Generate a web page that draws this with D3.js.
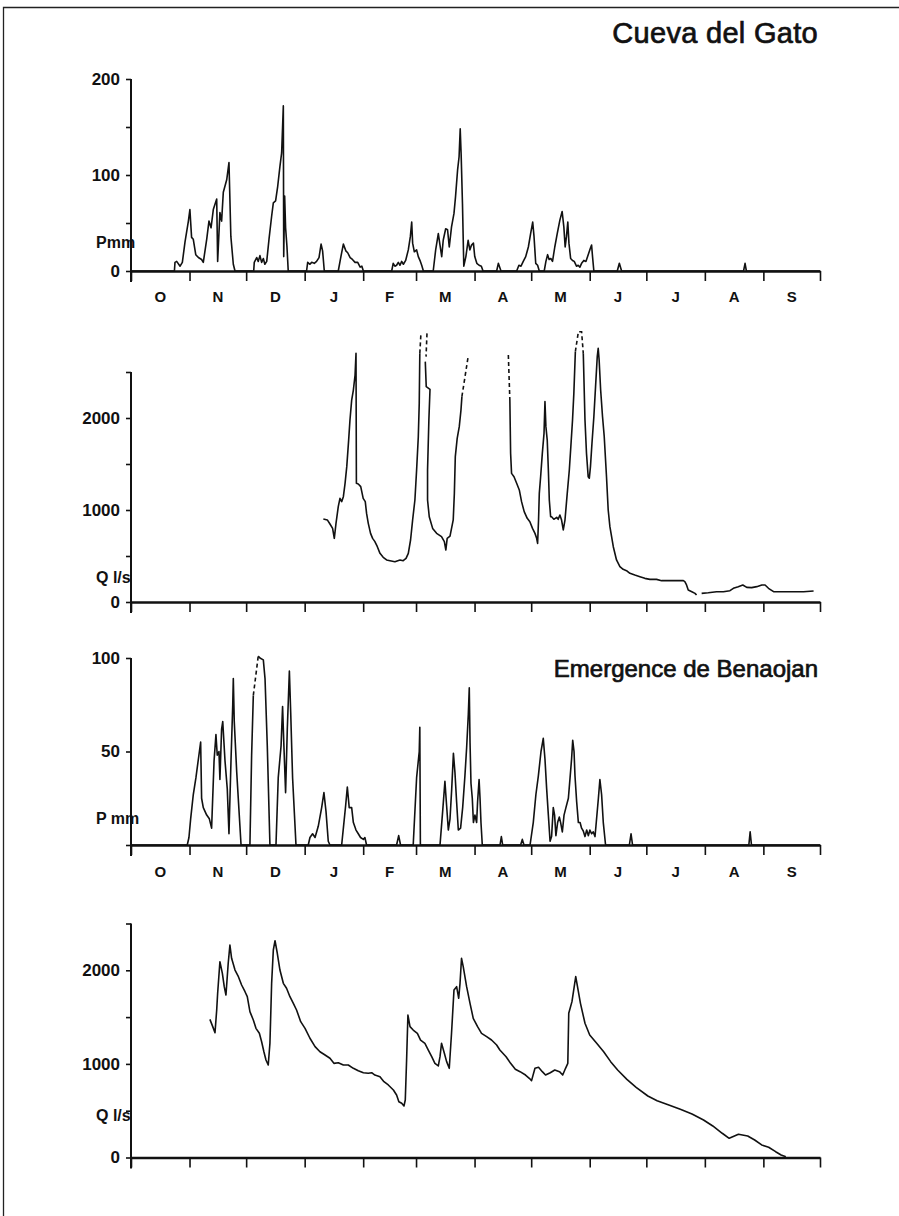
<!DOCTYPE html>
<html><head><meta charset="utf-8">
<script src="https://cdn.jsdelivr.net/npm/d3@7"></script>
<style>
html,body{margin:0;padding:0;background:#fff;}
svg{display:block;}
text{font-family:"Liberation Sans",Arial,Helvetica,sans-serif;fill:#111;}
</style></head><body>
<svg id="chart" width="899" height="1216"></svg>
<script>
// ---------- DATA (day = days since 1 October; value) ----------
const monthLabels = ["O","N","D","J","F","M","A","M","J","J","A","S"];

// Cueva del Gato – rainfall P (mm)
const gatoP = [
[0,0],[23.0,0],[23.3,9],[24.2,10],[26.0,5],[27.2,9],[28.6,30],[30.4,52],[31.2,64],[32.1,35],[33.0,33],[34.3,17],[35.7,14],[37.4,12],[38.3,9],[40.1,33],[41.3,52],[42.4,45],[43.6,64],[45.4,75],[45.9,10],[47.1,61],[48.0,52],[48.9,82],[50.7,95],[51.9,113],[52.9,36],[54.2,7],[55.1,0],
[65.0,0],[65.3,9],[66.6,14],[67.4,10],[68.3,16],[69.2,9],[70.1,13],[70.9,7],[71.9,10],[73.1,33],[74.5,57],[75.4,71],[76.6,73],[77.7,88],[78.9,109],[79.8,123],[80.7,172],[80.9,15],[81.4,78],[81.9,45],[82.6,26],[83.3,0],
[93.0,0],[93.6,9],[94.8,7],[95.7,9],[97.1,8],[98.3,10],[99.6,14],[100.7,28],[101.5,21],[102.4,0],
[109.8,0],[111.3,16],[112.5,28],[113.8,21],[114.8,19],[116.1,14],[117.3,12],[118.7,9],[120.1,9],[121.4,4],[122.3,5],[123.1,0],
[138.1,0],[138.9,8],[139.8,5],[140.7,6],[141.6,9],[142.5,6],[143.4,10],[144.3,7],[145.5,11],[146.9,22],[148.0,36],[148.7,51],[149.2,29],[150.1,20],[151.3,22],[152.2,15],[153.3,10],[154.0,6],[154.9,0],
[160.1,0],[161.4,22],[162.8,39],[163.7,27],[164.6,15],[165.4,32],[166.7,44],[167.7,43],[168.6,25],[169.8,46],[171.1,60],[171.9,77],[173.0,105],[173.8,119],[174.4,148],[174.9,121],[175.6,70],[176.3,5],[177.4,15],[178.6,32],[179.5,22],[180.4,27],[181.4,29],[182.1,15],[183.2,8],[184.4,6],[185.6,5],[186.5,0],
[193.7,0],[194.6,8],[196.0,0],
[204.3,0],[205.5,6],[206.6,5],[207.8,10],[209.1,15],[210.5,25],[211.7,39],[212.8,51],[213.5,36],[214.4,8],[215.4,6],[216.3,0],
[218.9,0],[219.8,10],[220.7,17],[221.5,12],[222.4,13],[223.3,10],[224.5,25],[225.8,39],[227.2,53],[228.4,62],[229.3,46],[230.0,25],[230.7,36],[231.4,51],[232.0,29],[232.9,13],[233.9,11],[234.8,10],[236.0,5],[236.9,6],[237.8,4],[238.7,8],[239.9,11],[241.0,10],[242.2,17],[243.4,24],[244.0,27],[244.5,15],[245.2,0],
[257.6,0],[258.7,8],[259.9,0],
[324.5,0],[325.3,8],[326.0,0],[365,0]
];

// Cueva del Gato – discharge Q (l/s): solid pieces and dashed (extrapolated) pieces
const gatoQ_a = [[101.9,902],[104.0,892],[105.4,848],[106.8,800],[107.7,692],[108.6,855],[109.8,1036],[110.7,1127],[111.6,1091],[112.5,1145],[113.4,1290],[114.3,1471],[115.3,1760],[116.0,1978],[116.9,2195],[117.8,2304],[118.7,2467],[119.2,2703],[119.4,1290],[120.4,1283],[121.7,1254],[123.0,1127],[124.1,1091],[124.8,963],[125.7,855],[126.9,746],[128.0,692],[129.2,656],[130.5,601],[131.9,529],[133.6,486],[135.4,457],[137.2,449],[139.8,438],[142.5,457],[144.2,449],[145.7,474],[146.9,529],[148.1,674],[149.2,892],[150.4,1109],[151.3,1434],[152.2,1797],[152.7,2159],[153.0,2703]];
const gatoQ_b = [[155.9,2613],[156.4,2341],[158.4,2312],[157.8,1978],[157.1,1434],[157.1,1109],[158.0,927],[159.8,800],[161.9,746],[164.5,710],[166.0,656],[166.8,565],[167.5,692],[169.0,717],[170.7,892],[171.3,1181],[171.8,1580],[172.8,1779],[173.9,1906],[174.8,2086],[175.3,2232]];
const gatoQ_c = [[200.7,2195],[201.1,1616],[201.6,1398],[202.9,1362],[204.3,1290],[205.7,1218],[206.9,1091],[208.3,982],[209.9,909],[211.3,873],[212.7,800],[214.0,746],[214.9,692],[215.4,637],[215.9,892],[216.3,1181],[217.0,1362],[217.9,1616],[218.8,1833],[219.3,2178],[219.8,1906],[220.5,1760],[221.1,1434],[221.6,1109],[222.3,927],[222.8,927],[224.0,899],[225.5,920],[226.3,899],[227.2,946],[228.1,891],[229.0,783],[229.9,891],[231.1,1181],[232.2,1435],[233.0,1688],[233.9,1978],[234.6,2268],[235.4,2721]];
const gatoQ_d = [[239.6,2703],[240.5,1978],[241.3,1616],[242.2,1362],[242.8,1345],[243.4,1471],[244.2,1725],[245.2,2014],[246.1,2341],[247.0,2667],[247.5,2757],[248.0,2631],[248.8,2304],[249.8,2014],[250.7,1797],[251.9,1362],[252.8,1000],[253.7,819],[255.5,601],[257.2,457],[259.0,384],[260.7,355],[262.5,341],[264.3,312],[266.9,293],[269.6,275],[272.2,257],[274.9,246],[278.4,246],[281.1,232],[283.7,232],[287.2,232],[292.6,232],[293.4,221],[294.3,185],[295.2,130],[297.1,112],[298.8,94],[299.6,76]];
const gatoQ_e = [[302.3,94],[305.8,101],[310.2,112],[313.8,112],[317.3,123],[319.1,149],[321.7,167],[324.1,185],[326.2,159],[328.8,156],[331.5,167],[334.2,185],[335.9,185],[337.7,149],[340.4,112],[343.0,112],[349.2,112],[356.3,112],[361.6,120]];
const gatoQ_dash1 = [[153.0,2703],[153.6,2920]];
const gatoQ_dash2 = [[156.8,2920],[156.3,2667]];
const gatoQ_dash3 = [[175.3,2232],[178.6,2667]];
const gatoQ_dash4 = [[199.9,2684],[200.7,2195]];
const gatoQ_dash5 = [[235.4,2721],[237.0,2938],[238.7,2938],[239.6,2703]];

// Emergence de Benaojan – rainfall P (mm)
const benP = [
[0,0],[29.8,0],[30.7,4],[31.6,14],[33.0,27],[34.4,36],[35.7,46],[36.9,55],[37.4,25],[38.3,20],[40.1,16],[41.5,14],[42.7,9],[44.0,45],[45.0,59],[45.7,48],[46.6,50],[47.1,35],[48.0,62],[48.6,66],[49.8,45],[51.0,30],[51.9,6],[53.0,46],[53.9,75],[54.2,89],[54.7,66],[56.0,39],[58.3,0],
[63.0,0],[63.9,48],[64.8,80]
];
const benP_dash = [[64.8,80],[67.4,101]];
const benP2 = [
[67.4,101],[68.3,100],[70.1,99],[71.0,89],[72.2,53],[73.6,0],
[76.8,0],[78.0,36],[79.5,53],[80.3,74],[81.0,53],[81.9,28],[82.8,62],[83.9,93],[84.6,71],[85.6,36],[87.4,0],
[93.9,0],[94.8,4],[96.2,6],[97.5,4],[99.2,10],[101.0,20],[102.2,28],[103.3,18],[104.5,2],[105.4,0],
[111.6,0],[112.5,9],[113.7,21],[114.6,31],[115.6,20],[116.9,20],[117.8,12],[119.2,8],[120.4,6],[121.6,4],[123.1,3],[123.9,4],[124.8,0],
[140.7,0],[141.8,5],[142.8,0],
[149.5,0],[151.3,36],[152.7,50],[153.0,63],[153.3,0],
[163.7,0],[165.1,18],[166.3,34],[167.2,21],[168.1,8],[169.0,14],[169.9,30],[170.8,49],[171.6,39],[172.5,23],[173.4,8],[174.6,9],[175.7,20],[176.9,37],[177.8,52],[178.7,70],[179.2,84],[179.6,55],[180.1,33],[180.8,25],[181.4,12],[182.2,16],[183.1,12],[183.6,23],[184.4,35],[184.9,25],[185.4,12],[186.1,0],
[195.5,0],[196.2,4.5],[196.9,0],
[206.4,0],[207.3,3],[208.2,0],
[211.4,0],[213.1,12],[214.5,27],[215.8,37],[217.2,50],[218.4,57],[219.3,46],[220.2,30],[221.1,16],[222.0,2],[222.8,4.5],[223.7,20],[224.4,16],[225.1,5],[226.0,12],[226.9,15],[227.6,12],[228.5,7],[229.4,16],[230.4,20],[231.7,25],[232.6,36],[233.4,46],[234.0,56],[234.7,50],[235.2,37],[236.1,23],[237.0,12],[237.9,12],[238.7,9],[239.6,7.5],[240.5,4.5],[241.4,8],[242.3,5],[243.1,8],[244.0,6],[244.9,7],[245.8,4.5],[246.3,10],[247.6,25],[248.4,35],[249.3,27],[250.2,12],[251.4,0],
[264.0,0],[264.9,6],[265.7,0],
[327.3,0],[328.0,7],[328.7,0],[365,0]
];

// Emergence de Benaojan – discharge Q (l/s)
const benQ = [[41.8,1476],[43.3,1398],[44.5,1334],[45.4,1576],[45.9,1754],[47.1,2092],[48.4,1968],[49.4,1825],[50.3,1736],[51.5,2075],[52.4,2270],[53.3,2128],[55.1,2003],[56.9,1932],[58.6,1843],[60.4,1771],[61.6,1718],[63.0,1558],[64.8,1469],[66.2,1380],[68.0,1327],[69.2,1237],[70.4,1130],[71.5,1042],[72.7,988],[73.6,1220],[74.5,1861],[75.4,2217],[76.3,2316],[77.5,2182],[78.9,2003],[80.7,1861],[82.4,1808],[84.2,1718],[86.0,1647],[87.7,1576],[89.9,1451],[92.2,1380],[94.8,1274],[97.5,1184],[100.1,1130],[102.8,1095],[105.4,1060],[107.5,1006],[109.8,1013],[112.5,988],[115.1,988],[117.8,953],[120.4,927],[123.1,906],[125.7,900],[127.5,906],[129.2,881],[131.9,863],[134.0,810],[136.3,775],[139.0,721],[140.7,668],[141.9,596],[143.4,579],[144.6,550],[145.3,614],[146.0,1042],[146.7,1522],[147.8,1398],[149.5,1362],[151.7,1327],[153.4,1255],[155.7,1220],[157.5,1148],[159.3,1077],[161.0,1006],[162.8,978],[163.7,1077],[164.5,1220],[166.0,1113],[167.2,1024],[168.6,953],[169.8,1327],[171.1,1790],[172.5,1825],[173.6,1701],[174.3,1861],[175.1,2128],[176.0,2039],[177.8,1825],[179.6,1647],[181.3,1487],[183.6,1398],[185.7,1327],[188.4,1291],[191.0,1255],[193.7,1202],[195.4,1148],[198.7,1077],[201.1,1006],[203.6,942],[206.1,917],[209.0,881],[211.0,846],[212.2,821],[214.0,953],[215.9,964],[217.9,917],[219.6,881],[222.1,906],[224.5,935],[227.0,917],[228.7,881],[230.2,953],[231.4,1006],[231.9,1541],[233.6,1665],[235.6,1932],[238.1,1647],[240.5,1434],[243.0,1309],[246.7,1220],[250.4,1130],[254.1,1024],[257.8,935],[262.7,835],[267.6,750],[273.8,657],[278.7,607],[284.9,561],[291.0,515],[297.2,465],[303.3,401],[308.2,337],[313.2,259],[316.9,205],[321.8,248],[326.7,230],[330.4,187],[334.1,134],[337.8,109],[341.5,62],[344.4,27],[346.9,9]];

// axis ticks and labels
const pTicks1 = [0,50,100,150,200], pLabels1 = [0,100,200];
const qTicks = [0,500,1000,1500,2000,2500], qLabels = [0,1000,2000];
const pTicks2 = [0,50,100], pLabels2 = [50,100];

// ---------- DRAWING ----------
const svg = d3.select("#chart");
const t0 = Date.UTC(1985,9,1);
const toDate = d => new Date(t0 + d*864e5);
const x = d3.scaleUtc().domain([new Date(t0), new Date(Date.UTC(1986,9,1))]).range([131, 820]);
const monthStarts = d3.utcMonth.range(new Date(t0), new Date(Date.UTC(1986,9,2)));

// frame
svg.append("path").attr("d","M3.5,1216 V7.5 H899").attr("fill","none").attr("stroke","#222").attr("stroke-width",1.3);

const panels = [
  {top:79, base:271, dom:[0,200], ticks:pTicks1, labels:pLabels1, unit:"Pmm", unitY:248, months:302,
   solid:[gatoP], dashed:[]},
  {top:372, base:602, dom:[0,2500], ticks:qTicks, labels:qLabels, unit:"Q l/s", unitY:583, months:null,
   solid:[gatoQ_a,gatoQ_b,gatoQ_c,gatoQ_d,gatoQ_e], dashed:[gatoQ_dash1,gatoQ_dash2,gatoQ_dash3,gatoQ_dash4,gatoQ_dash5]},
  {top:658, base:845, dom:[0,100], ticks:pTicks2, labels:pLabels2, unit:"P mm", unitY:824, months:877,
   solid:[benP,benP2], dashed:[benP_dash]},
  {top:923.5, base:1157.5, dom:[0,2500], ticks:qTicks, labels:qLabels, unit:"Q l/s", unitY:1121, months:null,
   solid:[benQ], dashed:[]}
];

panels.forEach(p => {
  const y = d3.scaleLinear().domain(p.dom).range([p.base, p.top]);
  const g = svg.append("g");
  // x axis
  const xa = g.append("g").attr("transform",`translate(0,${p.base})`)
    .call(d3.axisBottom(x).tickValues(monthStarts).tickSize(10).tickSizeOuter(0).tickFormat(""));
  xa.select(".domain").attr("stroke","#111").attr("stroke-width",2.4);
  xa.selectAll(".tick line").attr("stroke","#111").attr("stroke-width",1.6);
  // y axis
  const ya = g.append("g").attr("transform","translate(131,0)")
    .call(d3.axisLeft(y).tickValues(p.ticks).tickSize(5).tickPadding(6)
      .tickFormat(d => p.labels.includes(d) ? d : ""));
  ya.select(".domain").remove();
  ya.selectAll(".tick line").attr("stroke","#111").attr("stroke-width",1.6);
  ya.selectAll(".tick text").attr("font-size",17).attr("font-weight","bold")
    .attr("font-family",'"Liberation Sans",Arial,sans-serif').attr("fill","#111");
  g.append("line").attr("x1",131).attr("x2",131).attr("y1",y(p.dom[1])).attr("y2",p.base+11)
    .attr("stroke","#111").attr("stroke-width",2);
  // unit label
  g.append("text").attr("x",96).attr("y",p.unitY).attr("font-size",16).attr("font-weight","bold").text(p.unit);
  // months
  if (p.months) {
    g.selectAll("text.m").data(monthLabels).join("text").attr("class","m")
      .attr("x",(d,i)=> (x(monthStarts[i]) + x(monthStarts[i+1]))/2)
      .attr("y",p.months).attr("text-anchor","middle").attr("font-size",15).attr("font-weight","bold")
      .text(d=>d);
  }
  const line = d3.line().x(d => x(toDate(d[0]))).y(d => y(d[1]));
  p.solid.forEach(s => g.append("path").attr("d",line(s)).attr("fill","none")
    .attr("stroke","#111").attr("stroke-width",1.6).attr("stroke-linejoin","round"));
  p.dashed.forEach(s => g.append("path").attr("d",line(s)).attr("fill","none")
    .attr("stroke","#111").attr("stroke-width",1.6).attr("stroke-dasharray","4,3"));
});

// titles
svg.append("text").attr("x",818).attr("y",43).attr("text-anchor","end").attr("font-size",29)
  .attr("letter-spacing",0.3).attr("stroke","#111").attr("stroke-width",0.7).text("Cueva del Gato");
svg.append("text").attr("x",818).attr("y",677).attr("text-anchor","end").attr("font-size",24)
  .attr("letter-spacing",0).attr("stroke","#111").attr("stroke-width",0.7).text("Emergence de Benaojan");
</script>
</body></html>
